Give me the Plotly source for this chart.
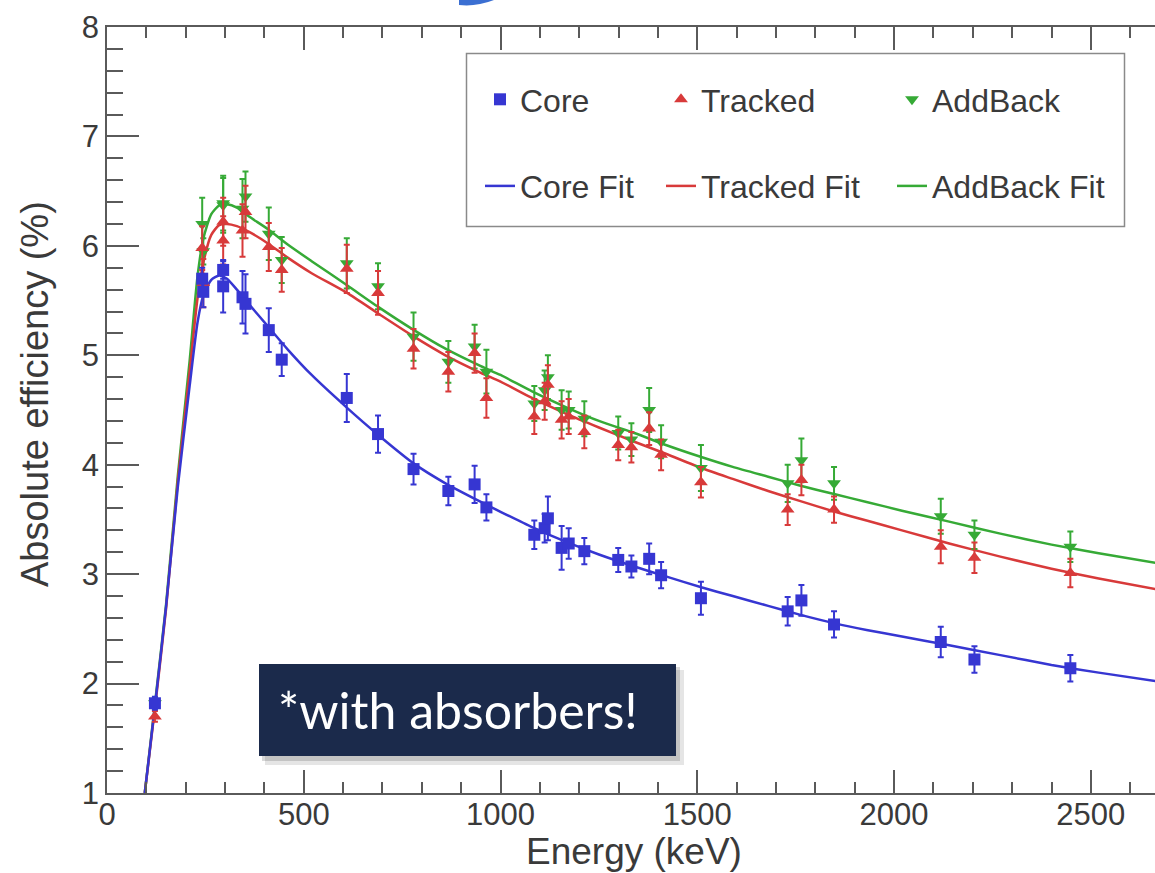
import plotly.graph_objects as go

# ---------------- data ----------------
energy = [121.8, 241.9, 244.7, 295.2, 295.2, 344.3, 351.9, 411.1, 444.0, 609.3,
          688.7, 778.9, 867.4, 934.1, 964.1, 1085.8, 1112.1, 1120.3, 1155.2, 1173.2,
          1212.9, 1299.1, 1332.5, 1377.7, 1408.0, 1509.2, 1729.6, 1764.5, 1847.4,
          2118.6, 2204.2, 2447.9]

core = [1.82, 5.70, 5.58, 5.78, 5.63, 5.53, 5.47, 5.23, 4.96, 4.61,
        4.28, 3.96, 3.76, 3.82, 3.61, 3.36, 3.42, 3.51, 3.24, 3.28,
        3.21, 3.13, 3.07, 3.14, 2.99, 2.78, 2.66, 2.76, 2.54,
        2.38, 2.22, 2.14]
core_err = [0.06, 0.10, 0.14, 0.08, 0.24, 0.24, 0.27, 0.20, 0.15, 0.22,
            0.17, 0.14, 0.13, 0.17, 0.12, 0.13, 0.13, 0.20, 0.20, 0.14,
            0.12, 0.11, 0.10, 0.14, 0.12, 0.15, 0.13, 0.14, 0.12,
            0.14, 0.12, 0.12]

tracked = [1.70, 5.98, 5.66, 6.22, 6.05, 6.14, 6.31, 5.99, 5.78, 5.79,
           5.57, 5.06, 4.85, 5.02, 4.61, 4.44, 4.58, 4.73, 4.41, 4.44,
           4.30, 4.18, 4.16, 4.33, 4.09, 3.84, 3.59, 3.86, 3.59,
           3.25, 3.15, 3.01]
tracked_err = [0.05, 0.20, 0.22, 0.22, 0.22, 0.24, 0.24, 0.22, 0.20, 0.22,
               0.20, 0.18, 0.18, 0.18, 0.18, 0.16, 0.17, 0.18, 0.17, 0.16,
               0.15, 0.14, 0.14, 0.15, 0.14, 0.14, 0.14, 0.14, 0.12,
               0.15, 0.14, 0.13]

addback = [1.82, 6.20, 5.95, 6.39, 6.37, 6.34, 6.45, 6.11, 5.87, 5.84,
           5.63, 5.17, 4.94, 5.08, 4.85, 4.56, 4.68, 4.80, 4.50, 4.50,
           4.42, 4.29, 4.23, 4.50, 4.21, 3.97, 3.83, 4.04, 3.83,
           3.53, 3.36, 3.25]
addback_err = [0.05, 0.24, 0.12, 0.25, 0.25, 0.27, 0.23, 0.24, 0.21, 0.23,
               0.21, 0.22, 0.19, 0.20, 0.20, 0.16, 0.18, 0.20, 0.18, 0.17,
               0.16, 0.15, 0.15, 0.20, 0.15, 0.21, 0.17, 0.20, 0.15,
               0.16, 0.13, 0.14]

fit_energy = [96, 122, 150, 180, 210, 230, 245, 265, 285, 305, 330, 360, 410, 460, 520,
              610, 690, 780, 860, 950, 1000, 1080, 1170, 1250, 1340, 1420, 1510,
              1590, 1680, 1760, 1850, 1930, 2020, 2140, 2270, 2400, 2520, 2670]
core_fit = [1.00, 1.80, 2.70, 3.80, 4.72, 5.30, 5.55, 5.69, 5.73, 5.70, 5.60, 5.47, 5.26, 5.05, 4.82,
            4.52, 4.27, 4.01, 3.83, 3.66, 3.57, 3.43, 3.29, 3.18, 3.07, 2.98, 2.88,
            2.80, 2.71, 2.63, 2.55, 2.49, 2.43, 2.35, 2.26, 2.17, 2.10, 2.02]
tracked_fit = [1.00, 1.78, 2.68, 3.85, 4.85, 5.52, 5.85, 6.10, 6.19, 6.20, 6.18, 6.13, 6.02, 5.89, 5.75,
               5.57, 5.38, 5.17, 5.00, 4.84, 4.76, 4.61, 4.46, 4.34, 4.21, 4.10, 3.97,
               3.87, 3.76, 3.67, 3.57, 3.49, 3.40, 3.28, 3.16, 3.05, 2.96, 2.86]
addback_fit = [1.00, 1.82, 2.72, 3.90, 4.95, 5.72, 6.07, 6.29, 6.37, 6.38, 6.35, 6.27, 6.15, 6.01, 5.86,
               5.64, 5.44, 5.23, 5.06, 4.90, 4.82, 4.67, 4.52, 4.40, 4.29, 4.18, 4.07,
               3.98, 3.89, 3.81, 3.73, 3.66, 3.58, 3.48, 3.37, 3.27, 3.19, 3.10]

x_ticks = [0, 500, 1000, 1500, 2000, 2500]
x_ticktext = ["0", "500", "1000", "1500", "2000", "2500"]
y_ticks = [1, 2, 3, 4, 5, 6, 7, 8]
y_ticktext = ["1", "2", "3", "4", "5", "6", "7", "8"]

# ---------------- style ----------------
BLUE = "#3636d2"
RED = "#d83a3a"
GREEN = "#36aa36"
AXIS = "#5a5a5a"
TXT = "#3a3a3a"
FONT = "Liberation Sans, Arial, Helvetica, sans-serif"

# plot area in pixels (for paper conversions of decorations)
L, R, T, B = 107, 1155, 27, 793
W, H = R - L, B - T


def px(x):
    return (x - L) / W


def py(y):
    return (B - y) / H


fig = go.Figure()

series = [
    ("AddBack", addback, addback_err, addback_fit, GREEN, "triangle-down", "legend3"),
    ("Tracked", tracked, tracked_err, tracked_fit, RED, "triangle-up", "legend2"),
    ("Core", core, core_err, core_fit, BLUE, "square", "legend"),
]

for name, vals, errs, fit, col, sym, leg in series:
    fig.add_trace(go.Scatter(
        x=fit_energy, y=fit, mode="lines", name=name + " Fit",
        line=dict(color=col, width=2.5, shape="spline", smoothing=0.6),
        legend=leg, legendgroup=name + "fit", legendrank=2,
        hoverinfo="skip"))

for name, vals, errs, fit, col, sym, leg in series:
    fig.add_trace(go.Scatter(
        x=energy, y=vals, mode="markers", name=name,
        marker=dict(symbol=sym, size=12, color=col, line=dict(width=0)),
        error_y=dict(type="data", array=errs, color=col, thickness=2, width=3),
        legend=leg, legendgroup=name, legendrank=1))

legend_common = dict(
    xanchor="left", yanchor="top", bgcolor="rgba(0,0,0,0)", borderwidth=0,
    font=dict(size=32, family=FONT, color=TXT), traceorder="grouped",
    tracegroupgap=42, itemsizing="trace", orientation="v")

shapes = [
    # legend frame
    dict(type="rect", xref="paper", yref="paper", x0=px(466.5), x1=px(1124.5),
         y0=py(226.5), y1=py(53.5), line=dict(color="#8a8a8a", width=1.5),
         fillcolor="white", layer="above"),
    # shadow of the note box
    dict(type="rect", xref="paper", yref="paper", x0=px(265), x1=px(684),
         y0=py(765), y1=py(670), line=dict(width=0), fillcolor="rgba(0,0,0,0.10)",
         layer="above"),
    dict(type="rect", xref="paper", yref="paper", x0=px(262), x1=px(680),
         y0=py(761), y1=py(667), line=dict(width=0), fillcolor="rgba(0,0,0,0.15)",
         layer="above"),
    # note box
    dict(type="rect", xref="paper", yref="paper", x0=px(259), x1=px(676),
         y0=py(756), y1=py(664), line=dict(width=0), fillcolor="#1b2a4b",
         layer="above"),
    # small blue slide decoration at the top
    dict(type="path", xref="paper", yref="paper",
         path="M {a},{b} L {a},{c} Q {d},{e} {f},{b} Z".format(
             a=px(459), b=py(0), c=py(5), d=px(476), e=py(7), f=px(494)),
         line=dict(width=0), fillcolor="#3b6fd2", layer="above"),
]

annotations = [
    dict(text="*with absorbers!", xref="paper", yref="paper", x=px(276), y=py(710),
         xanchor="left", yanchor="middle", showarrow=False,
         font=dict(size=50, family="Lato, Open Sans, sans-serif", color="white")),
    dict(text="Energy (keV)", xref="paper", yref="paper", x=px(634), y=py(851),
         xanchor="center", yanchor="middle", showarrow=False,
         font=dict(size=37, family=FONT, color=TXT)),
    dict(text="Absolute efficiency (%)", xref="paper", yref="paper", x=px(35), y=py(394),
         xanchor="center", yanchor="middle", showarrow=False, textangle=-90,
         font=dict(size=38, family=FONT, color=TXT)),
]

fig.update_layout(
    width=1155, height=873,
    margin=dict(l=L, r=1155 - R, t=T, b=873 - B, pad=0),
    paper_bgcolor="white", plot_bgcolor="white",
    font=dict(family=FONT, color=TXT),
    showlegend=True,
    legend=dict(x=px(480), y=py(72), **legend_common),
    legend2=dict(x=px(661), y=py(72), **legend_common),
    legend3=dict(x=px(892), y=py(72), **legend_common),
    xaxis=dict(
        range=[0, 2663], tickmode="array", tickvals=x_ticks, ticktext=x_ticktext,
        ticks="inside", ticklen=23, tickwidth=1.5, tickcolor=AXIS,
        showline=True, linecolor=AXIS, linewidth=1.5, mirror="ticks",
        showgrid=False, zeroline=False, ticklabelstandoff=-7,
        tickfont=dict(size=31, family=FONT, color=TXT),
        minor=dict(dtick=100, tick0=0, ticks="inside", ticklen=11, tickwidth=1.5,
                   tickcolor=AXIS, showgrid=False),
    ),
    yaxis=dict(
        range=[1, 8], tickmode="array", tickvals=y_ticks, ticktext=y_ticktext,
        ticks="inside", ticklen=32, tickwidth=1.5, tickcolor=AXIS,
        showline=True, linecolor=AXIS, linewidth=1.5, mirror=False,
        showgrid=False, zeroline=False,
        tickfont=dict(size=31, family=FONT, color=TXT),
        minor=dict(dtick=0.2, tick0=0, ticks="inside", ticklen=16, tickwidth=1.5,
                   tickcolor=AXIS, showgrid=False),
    ),
    yaxis2=dict(
        range=[1, 8], overlaying="y", side="right", anchor="x",
        tickmode="array", tickvals=y_ticks, showticklabels=False,
        ticks="inside", ticklen=26, tickwidth=1.5, tickcolor=AXIS,
        showline=False, showgrid=False, zeroline=False,
        minor=dict(dtick=0.2, tick0=0, ticks="inside", ticklen=10, tickwidth=1.5,
                   tickcolor=AXIS, showgrid=False),
    ),
    shapes=shapes,
    annotations=annotations,
)

fig.write_html("out.html")
